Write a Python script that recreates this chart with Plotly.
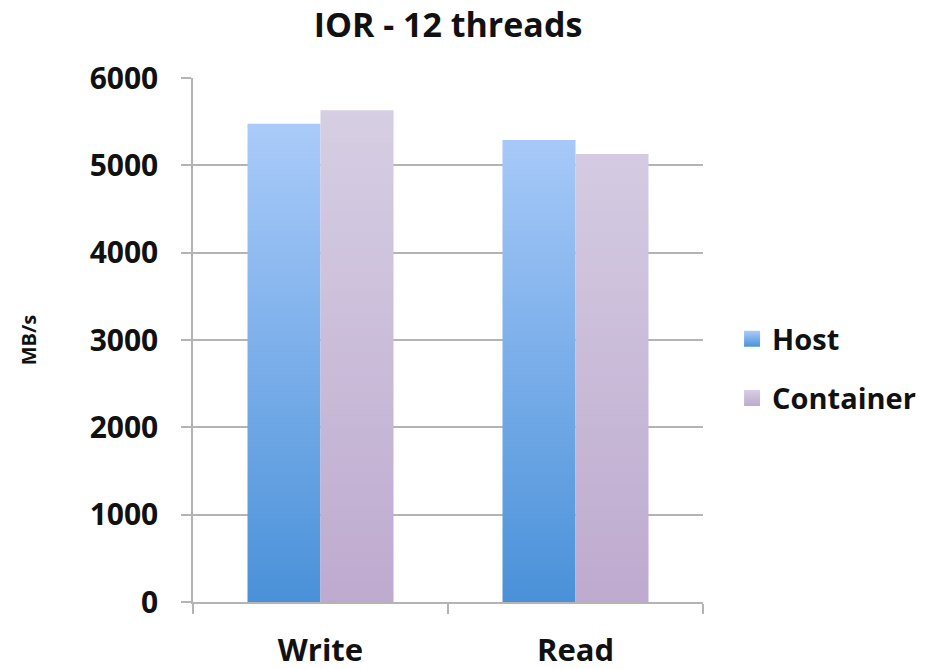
import plotly.graph_objects as go

categories = ["Write", "Read"]
series_names = ["Host", "Container"]
host_values = [5475, 5290]
container_values = [5630, 5130]
y_ticks = [0, 1000, 2000, 3000, 4000, 5000, 6000]

title_text = "IOR - 12 threads"
y_title = "MB/s"

host_grad = [[0, "#4A91D9"], [1, "#AACBFA"]]
cont_grad = [[0, "#BEAACF"], [1, "#D6CEE3"]]

FONT = "Open Sans"
GRID = "#B4B4B4"
INK = "#111111"

bar_w = 73 / 255.0  # width of one bar in category units

fig = go.Figure()


def bar_polys(values, offset):
    xs, ys = [], []
    for i, v in enumerate(values):
        x0 = i + offset
        x1 = x0 + bar_w
        xs += [x0, x1, x1, x0, x0, None]
        ys += [0, 0, v, v, 0, None]
    return xs, ys


for vals, off, grad in [(host_values, -bar_w, host_grad), (container_values, 0.0, cont_grad)]:
    xs, ys = bar_polys(vals, off)
    fig.add_trace(go.Scatter(
        x=xs, y=ys, mode="none", fill="toself",
        fillgradient=dict(type="vertical", colorscale=grad),
        showlegend=False, hoverinfo="skip",
    ))

# legend entries
for name, grad, lg in [(series_names[0], host_grad, "legend"), (series_names[1], cont_grad, "legend2")]:
    fig.add_trace(go.Scatter(
        x=[None], y=[None], mode="markers", name=name,
        marker=dict(symbol="square", size=20, color=grad[1][1],
                    gradient=dict(type="vertical", color=grad[0][1])),
        legend=lg,
    ))

legend_font = dict(family=FONT, size=29, color=INK, weight="bold")

fig.update_layout(
    width=925, height=669,
    paper_bgcolor="white", plot_bgcolor="white",
    margin=dict(l=193, r=222, t=78, b=67, autoexpand=False),
    title=dict(text=title_text, x=0.5, xref="paper", xanchor="center",
               y=0.962, yanchor="middle",
               font=dict(family=FONT, size=34, color=INK, weight="bold")),
    legend=dict(x=1.057, xanchor="left", y=0.502, yanchor="middle",
                font=legend_font, bgcolor="rgba(0,0,0,0)"),
    legend2=dict(x=1.057, xanchor="left", y=0.389, yanchor="middle",
                 font=legend_font, bgcolor="rgba(0,0,0,0)"),
    xaxis=dict(
        range=[-0.5, 1.5], tickmode="array", tickvals=list(range(len(categories))),
        ticktext=categories, ticks="", showgrid=False, zeroline=False,
        showline=True, linecolor=GRID, linewidth=1.5,
        tickfont=dict(family=FONT, size=31, color=INK, weight="bold"),
        ticklabelstandoff=20, automargin=False,
        minor=dict(tick0=-0.5, dtick=1, ticks="outside", ticklen=10,
                   tickcolor=GRID, tickwidth=1.5, showgrid=False),
        fixedrange=True,
    ),
    yaxis=dict(
        range=[0, 6000], tickmode="array", tickvals=y_ticks,
        ticks="outside", ticklen=10, tickcolor=GRID, tickwidth=1.5,
        showgrid=True, gridcolor=GRID, gridwidth=1.5, zeroline=False,
        showline=True, linecolor=GRID, linewidth=1.5,
        tickfont=dict(family=FONT, size=30, color=INK, weight="bold"),
        ticklabelstandoff=17, automargin=False,
        title=dict(text=y_title, standoff=48,
                   font=dict(family=FONT, size=20, color=INK, weight="bold")),
        fixedrange=True,
    ),
)

fig.write_html(
    "out.html",
    config={"displayModeBar": False},
    post_script="document.body.style.margin='0';document.body.style.overflow='hidden';",
)
